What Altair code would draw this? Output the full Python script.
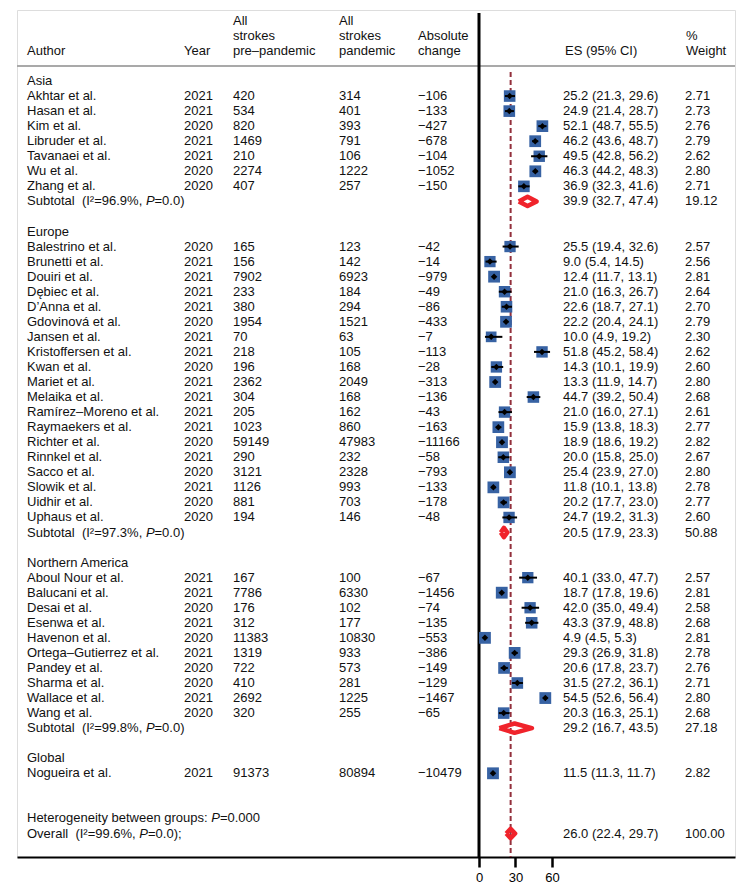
import altair as alt
import pandas as pd

# ---------------- data ----------------
groups = ["Asia", "Europe", "Northern America", "Global"]
group_sizes = [7, 19, 10, 1]

authors = [
    "Akhtar et al.", "Hasan et al.", "Kim et al.", "Libruder et al.", "Tavanaei et al.", "Wu et al.", "Zhang et al.",
    "Balestrino et al.", "Brunetti et al.", "Douiri et al.", "Dębiec et al.", "D’Anna et al.", "Gdovinová et al.",
    "Jansen et al.", "Kristoffersen et al.", "Kwan et al.", "Mariet et al.", "Melaika et al.", "Ramírez–Moreno et al.",
    "Raymaekers et al.", "Richter et al.", "Rinnkel et al.", "Sacco et al.", "Slowik et al.", "Uidhir et al.", "Uphaus et al.",
    "Aboul Nour et al.", "Balucani et al.", "Desai et al.", "Esenwa et al.", "Havenon et al.", "Ortega–Gutierrez et al.",
    "Pandey et al.", "Sharma et al.", "Wallace et al.", "Wang et al.",
    "Nogueira et al.",
]
years = [2021, 2021, 2020, 2021, 2021, 2020, 2020,
         2020, 2021, 2021, 2021, 2021, 2020, 2021, 2021, 2020, 2021, 2021, 2021, 2021, 2020, 2021, 2020, 2021, 2020, 2020,
         2021, 2021, 2020, 2021, 2020, 2021, 2020, 2020, 2021, 2020,
         2021]
pre = [420, 534, 820, 1469, 210, 2274, 407,
       165, 156, 7902, 233, 380, 1954, 70, 218, 196, 2362, 304, 205, 1023, 59149, 290, 3121, 1126, 881, 194,
       167, 7786, 176, 312, 11383, 1319, 722, 410, 2692, 320,
       91373]
pand = [314, 401, 393, 791, 106, 1222, 257,
        123, 142, 6923, 184, 294, 1521, 63, 105, 168, 2049, 168, 162, 860, 47983, 232, 2328, 993, 703, 146,
        100, 6330, 102, 177, 10830, 933, 573, 281, 1225, 255,
        80894]
change = [-106, -133, -427, -678, -104, -1052, -150,
          -42, -14, -979, -49, -86, -433, -7, -113, -28, -313, -136, -43, -163, -11166, -58, -793, -133, -178, -48,
          -67, -1456, -74, -135, -553, -386, -149, -129, -1467, -65,
          -10479]
es = [25.2, 24.9, 52.1, 46.2, 49.5, 46.3, 36.9,
      25.5, 9.0, 12.4, 21.0, 22.6, 22.2, 10.0, 51.8, 14.3, 13.3, 44.7, 21.0, 15.9, 18.9, 20.0, 25.4, 11.8, 20.2, 24.7,
      40.1, 18.7, 42.0, 43.3, 4.9, 29.3, 20.6, 31.5, 54.5, 20.3,
      11.5]
lo = [21.3, 21.4, 48.7, 43.6, 42.8, 44.2, 32.3,
      19.4, 5.4, 11.7, 16.3, 18.7, 20.4, 4.9, 45.2, 10.1, 11.9, 39.2, 16.0, 13.8, 18.6, 15.8, 23.9, 10.1, 17.7, 19.2,
      33.0, 17.8, 35.0, 37.9, 4.5, 26.9, 17.8, 27.2, 52.6, 16.3,
      11.3]
hi = [29.6, 28.7, 55.5, 48.7, 56.2, 48.3, 41.6,
      32.6, 14.5, 13.1, 26.7, 27.1, 24.1, 19.2, 58.4, 19.9, 14.7, 50.4, 27.1, 18.3, 19.2, 25.0, 27.0, 13.8, 23.0, 31.3,
      47.7, 19.6, 49.4, 48.8, 5.3, 31.8, 23.7, 36.1, 56.4, 25.1,
      11.7]
weight = [2.71, 2.73, 2.76, 2.79, 2.62, 2.80, 2.71,
          2.57, 2.56, 2.81, 2.64, 2.70, 2.79, 2.30, 2.62, 2.60, 2.80, 2.68, 2.61, 2.77, 2.82, 2.67, 2.80, 2.78, 2.77, 2.60,
          2.57, 2.81, 2.58, 2.68, 2.81, 2.78, 2.76, 2.71, 2.80, 2.68,
          2.82]

sub_es = [39.9, 20.5, 29.2]
sub_lo = [32.7, 17.9, 16.7]
sub_hi = [47.4, 23.3, 43.5]
sub_w = [19.12, 50.88, 27.18]
sub_i2 = ["96.9", "97.3", "99.8"]
sub_p = ["0.0", "0.0", "0.0"]

overall_es, overall_lo, overall_hi, overall_w = 26.0, 22.4, 29.7, 100.00
overall_i2, overall_p = "99.6", "0.0"
het_p = "0.000"

x_ticks = [0, 30, 60]

# ---------------- layout ----------------
FONT = "Liberation Sans"
FS = 13
W, H = 718, 847
PPU = 73 / 60.0           # pixels per unit
X0 = 462                  # pixel of ES = 0 inside plot
XMIN, XMAX = -X0 / PPU, (W - X0) / PPU
ROWH = 15.05
YMIN = -71 / ROWH
YMAX = YMIN + H / ROWH

COLX = {"author": 10, "year": 167, "pre": 216, "pand": 322, "chg": 401, "es": 546, "w": 668}

AW = {" ": 278, "\u00a0": 278, "(": 333, ")": 333, "²": 333, "=": 584, "%": 889, ",": 278, ".": 278,
      ":": 278, ";": 278, "P": 667, "I": 278, "S": 667, "O": 778, "H": 722}
for d in "0123456789":
    AW[d] = 556
for c, v in {"a": 556, "b": 556, "e": 556, "g": 556, "n": 556, "o": 556, "p": 556, "u": 556,
             "t": 278, "l": 222, "i": 222, "r": 333, "v": 500, "y": 500, "s": 500, "w": 722}.items():
    AW[c] = v


def tw(s):
    return sum(AW.get(ch, 556) for ch in s) * FS / 1000.0


# ---------------- build tables ----------------
texts = []   # row, x, text, italic
studies = []
subs = []

def addt(row, x, t, it=False):
    texts.append({"row": row, "x": round(x, 1), "text": t, "it": it})

def fmt_ci(e, l, h):
    return f"{e:.1f} ({l:.1f}, {h:.1f})"

row = 0
k = 0
for gi, g in enumerate(groups):
    addt(row, COLX["author"], g)
    row += 1
    for _ in range(group_sizes[gi]):
        addt(row, COLX["author"], authors[k])
        addt(row, COLX["year"], str(years[k]))
        addt(row, COLX["pre"], str(pre[k]))
        addt(row, COLX["pand"], str(pand[k]))
        addt(row, COLX["chg"], ("−" if change[k] < 0 else "") + str(abs(change[k])))
        addt(row, COLX["es"], fmt_ci(es[k], lo[k], hi[k]))
        addt(row, COLX["w"], f"{weight[k]:.2f}")
        studies.append({"row": row, "es": es[k], "lo": lo[k], "hi": hi[k], "w": weight[k]})
        row += 1
        k += 1
    if gi < len(sub_es):
        pre_s = f"Subtotal\u00a0 (I²={sub_i2[gi]}%, "
        x1 = COLX["author"] + tw(pre_s)
        addt(row, COLX["author"], pre_s)
        addt(row, x1, "P", True)
        addt(row, x1 + tw("P"), f"={sub_p[gi]})")
        addt(row, COLX["es"], fmt_ci(sub_es[gi], sub_lo[gi], sub_hi[gi]))
        addt(row, COLX["w"], f"{sub_w[gi]:.2f}")
        subs.append({"g": gi, "row": row, "es": sub_es[gi], "lo": sub_lo[gi], "hi": sub_hi[gi]})
        row += 1
        row += 1

# heterogeneity + overall
row += 2
het_s = "Heterogeneity between groups: "
x1 = COLX["author"] + tw(het_s)
addt(row, COLX["author"], het_s)
addt(row, x1, "P", True)
addt(row, x1 + tw("P"), f"={het_p}")
row += 1
ov_s = f"Overall\u00a0 (I²={overall_i2}%, "
x1 = COLX["author"] + tw(ov_s)
addt(row, COLX["author"], ov_s)
addt(row, x1, "P", True)
addt(row, x1 + tw("P"), f"={overall_p});")
addt(row, COLX["es"], fmt_ci(overall_es, overall_lo, overall_hi))
addt(row, COLX["w"], f"{overall_w:.2f}")
subs.append({"g": 9, "row": row, "es": overall_es, "lo": overall_lo, "hi": overall_hi})

# headers
headers = [
    (COLX["author"], ["Author"]),
    (COLX["year"], ["Year"]),
    (COLX["pre"], ["All", "strokes", "pre–pandemic"]),
    (COLX["pand"], ["All", "strokes", "pandemic"]),
    (COLX["chg"], ["Absolute", "change"]),
    (COLX["es"] + 2, ["ES (95% CI)"]),
    (COLX["w"] + 1, ["%", "Weight"]),
]
for x, lines in headers:
    n = len(lines)
    for i, t in enumerate(lines):
        addt(-2 - (n - 1 - i), x, t)

text_df = pd.DataFrame(texts)
study_df = pd.DataFrame(studies)

dia = []
for s in subs:
    hh = 0.31
    pts = [(s["lo"], s["row"]), (s["es"], s["row"] - hh), (s["hi"], s["row"]),
           (s["es"], s["row"] + hh), (s["lo"], s["row"])]
    for o, (xx, yy) in enumerate(pts):
        dia.append({"g": s["g"], "o": o, "x": xx, "y": yy})
dia_df = pd.DataFrame(dia)

# ---------------- scales ----------------
xs = alt.Scale(domain=[XMIN, XMAX], nice=False, zero=False)
ys = alt.Scale(domain=[YMIN, YMAX], nice=False, zero=False, reverse=True)
xax = alt.Axis(values=x_ticks, grid=False, title=None, domainColor="black", domainWidth=2,
               tickColor="black", tickWidth=2.5, tickSize=10, labelFont=FONT, labelFontSize=FS,
               labelColor="black", labelPadding=4, labelFlush=False, labelOverlap=False)


def X(f):
    return alt.X(f, type="quantitative", scale=xs, axis=xax)


def Y(f):
    return alt.Y(f, type="quantitative", scale=ys, axis=None)


layers = []

# top gray separator
layers.append(alt.Chart(pd.DataFrame({"y": [-1.0]})).mark_rule(color="#a9a9a9", strokeWidth=2).encode(
    x=alt.value(0), x2=alt.value(W), y=Y("y")))

# vertical line at 0
layers.append(alt.Chart(pd.DataFrame({"x": [0], "y": [-4.52], "y2": [YMAX]})).mark_rule(
    color="black", strokeWidth=3).encode(x=X("x"), y=Y("y"), y2="y2"))

# dashed overall line
layers.append(alt.Chart(pd.DataFrame({"x": [overall_es], "y": [-0.6], "y2": [YMAX]})).mark_rule(
    color="#93303c", strokeWidth=2, strokeDash=[5, 3]).encode(x=X("x"), y=Y("y"), y2="y2"))

# squares
layers.append(alt.Chart(study_df).mark_point(shape="square", filled=True, color="#3762a3", opacity=1).encode(
    x=X("es"), y=Y("row"),
    size=alt.Size("w:Q", scale=alt.Scale(domain=[0, 2.82], range=[0, 140]), legend=None)))

# CI lines
layers.append(alt.Chart(study_df).mark_rule(color="black", strokeWidth=2).encode(
    x=X("lo"), x2="hi", y=Y("row")))

# black diamonds
layers.append(alt.Chart(study_df).mark_point(shape="diamond", filled=True, color="black", size=42, opacity=1).encode(
    x=X("es"), y=Y("row")))

# pooled diamonds
layers.append(alt.Chart(dia_df).mark_line(color="#f0232b", strokeWidth=4.5, strokeJoin="round").encode(
    x=X("x"), y=Y("y"), detail="g:N", order="o:Q"))

# text
for (xv, it), sub in text_df.groupby(["x", "it"]):
    layers.append(alt.Chart(sub).mark_text(
        align="left", baseline="middle", font=FONT, fontSize=FS, color="#111111",
        fontStyle="italic" if it else "normal").encode(
        x=alt.value(float(xv)), y=Y("row"), text="text:N"))

chart = alt.layer(*layers).properties(
    width=W, height=H,
    autosize=alt.AutoSizeParams(type="none"),
    padding={"left": 9, "top": 2, "right": 8, "bottom": 26},
).configure_view(stroke=None).configure(background="white")

chart.save("out.html", embed_options={"renderer": "svg", "actions": False})
